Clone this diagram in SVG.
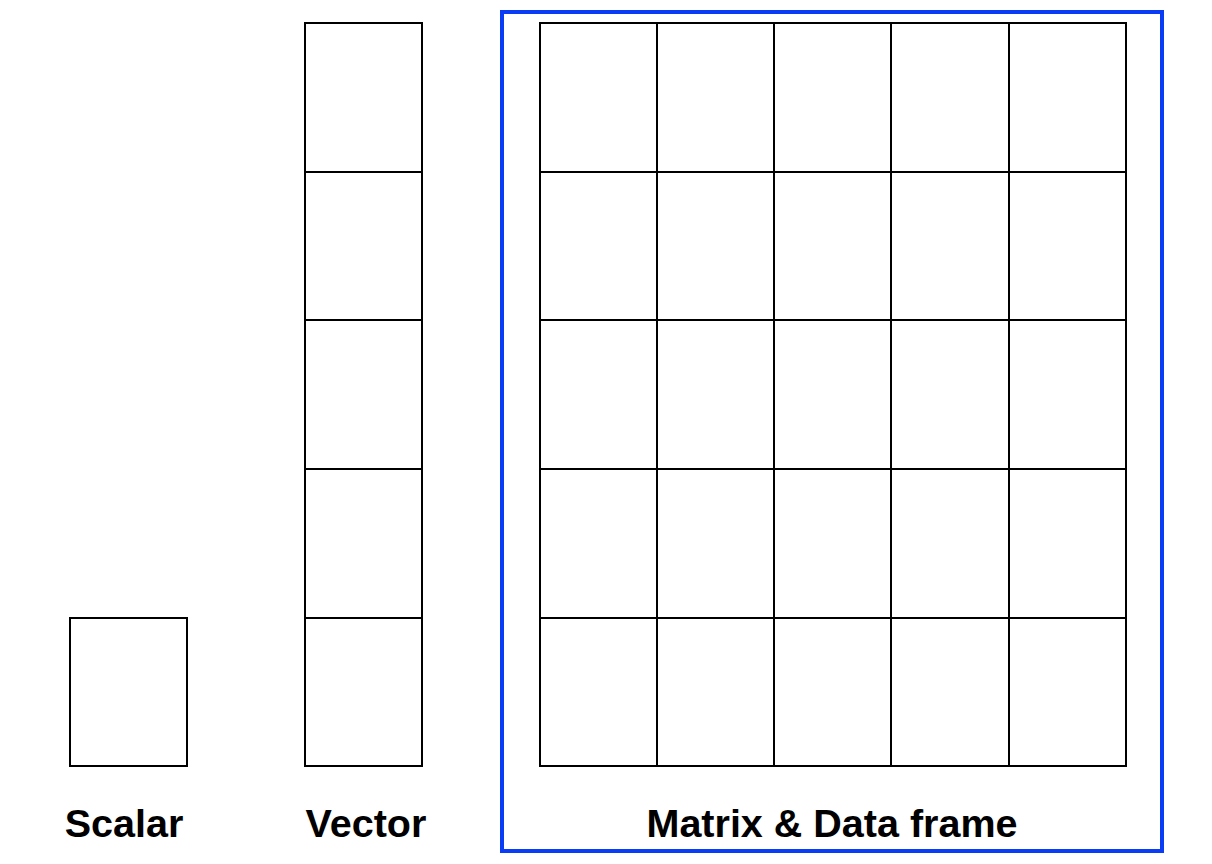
<svg xmlns="http://www.w3.org/2000/svg" width="1212" height="864" viewBox="0 0 1212 864">
<style>
.c{fill:#fff;stroke:#000;stroke-width:2}
.t{font-family:"Liberation Sans",Arial,sans-serif;font-weight:bold;font-size:39.5px;text-anchor:middle;fill:#000}
</style>
<rect width="1212" height="864" fill="#fff"/>
<g id="scalar"><rect class="c" x="70" y="618" width="117" height="148"/></g>
<g id="vector">
<rect class="c" x="305" y="23" width="117" height="149"/>
<rect class="c" x="305" y="172" width="117" height="148"/>
<rect class="c" x="305" y="320" width="117" height="149"/>
<rect class="c" x="305" y="469" width="117" height="149"/>
<rect class="c" x="305" y="618" width="117" height="148"/>
</g>
<g id="matrix">
<rect x="502" y="12" width="660" height="839" fill="none" stroke="#0a3cf5" stroke-width="4"/>
<rect class="c" x="540" y="23" width="586" height="743"/>
<path d="M657 23V766M774 23V766M891 23V766M1009 23V766M540 172H1126M540 320H1126M540 469H1126M540 618H1126" stroke="#000" stroke-width="2" fill="none"/>
</g>
<g id="labels">
<text class="t" x="124" y="837">Scalar</text>
<text class="t" x="366" y="837">Vector</text>
<text class="t" x="832" y="837">Matrix &amp; Data frame</text>
</g>
<g id="connectors"/>
</svg>
